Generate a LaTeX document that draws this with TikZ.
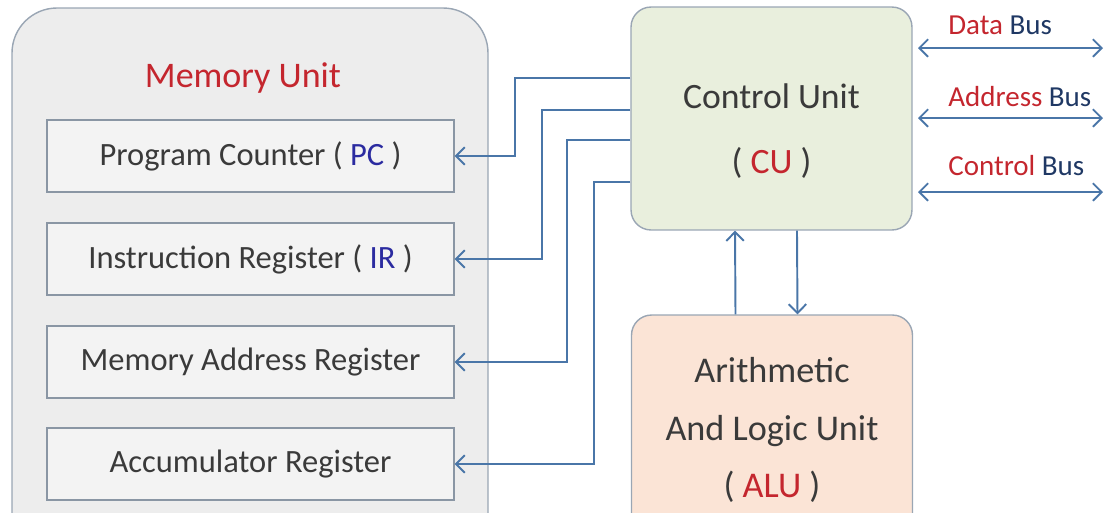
\documentclass[tikz,border=0pt]{standalone}
\usepackage{fontspec}
\setmainfont{Carlito}
\usetikzlibrary{arrows.meta}

\definecolor{memfill}{HTML}{EDEDED}
\definecolor{memline}{HTML}{9AA6B4}
\definecolor{regfill}{HTML}{F3F3F3}
\definecolor{regline}{HTML}{8A96A4}
\definecolor{cufill}{HTML}{E9EFDD}
\definecolor{alufill}{HTML}{FBE4D6}
\definecolor{txt}{HTML}{3A3A3A}
\definecolor{hot}{HTML}{C4262E}
\definecolor{cool}{HTML}{2B2BA0}
\definecolor{navy}{HTML}{1F3864}
\definecolor{wire}{HTML}{4A76A8}

\tikzset{
  reg/.style={draw=regline, fill=regfill, line width=0.8pt, inner sep=0pt,
    minimum width=8.14cm, minimum height=1.44cm, text=txt,
    font=\fontsize{18.5}{22}\selectfont},
  unit/.style={draw=memline, line width=0.8pt, rounded corners=0.4cm,
    minimum width=5.62cm, inner sep=0pt},
  unittext/.style={text=txt, align=center, inner sep=0pt},
  link/.style={wire, line width=1.1pt, -{Straight Barb[length=5pt,width=10pt]}},
  bus/.style={link, {Straight Barb[length=5pt,width=10pt]}-{Straight Barb[length=5pt,width=10pt]}},
  buslabel/.style={anchor=west, inner sep=0pt, font=\fontsize{16.5}{19}\selectfont}
}

\begin{document}
\begin{tikzpicture}[x=0.02cm, y=-0.02cm]
\useasboundingbox (0,0) rectangle (1107,512);
\clip (0,0) rectangle (1107,512);

% memory unit and its registers
\draw[draw=memline, fill=memfill, line width=0.8pt, rounded corners=0.9cm] (12,8) rectangle (488,600);
\path (243,78) node[text=hot, font=\fontsize{20.5}{24}\selectfont] (memtitle) {Memory Unit};
\path (250.5,156) node[reg] (pc) {Program Counter ( \textcolor{cool}{PC} )};
\path (250.5,259) node[reg] (ir) {Instruction Register ( \textcolor{cool}{IR} )};
\path (250.5,362) node[reg] (mar) {Memory Address Register};
\path (250.5,464) node[reg] (acc) {Accumulator Register};

% control unit and ALU
\path (771.5,118.5) node[unit, fill=cufill, minimum height=4.46cm] (cu) {};
\path (cu.center) ++(0,13) node[unittext, font=\fontsize{20.3}{37}\selectfont] (cutext)
  {Control Unit\\( \textcolor{hot}{CU} )};
\path (772,430) node[unit, fill=alufill, minimum height=4.6cm] (alu) {};
\path (alu.center) ++(0,0) node[unittext, font=\fontsize{20.6}{32.5}\selectfont] (alutext)
  {Arithmetic\\And Logic Unit\\( \textcolor{hot}{ALU} )};

% control lines to the registers
\draw[link] (cu.west |- 0,78) -- (515,78) |- (pc.east);
\draw[link] (cu.west |- 0,110) -- (542,110) |- (ir.east);
\draw[link] (cu.west |- 0,140) -- (567,140) |- (mar.east);
\draw[link] (cu.west |- 0,182) -- (594,182) |- (acc.east);

\draw[link] ([xshift=-0.73cm]alu.north) -- ([xshift=-0.73cm]cu.south);
\draw[link] ([xshift=0.51cm]cu.south) -- ([xshift=0.51cm]alu.north);

% system buses
\path (948,25) node[buslabel] (dbus) {\textcolor{hot}{Data} \textcolor{navy}{Bus}};
\path (948,97) node[buslabel] (abus) {\textcolor{hot}{Address} \textcolor{navy}{Bus}};
\path (948,166) node[buslabel] (cbus) {\textcolor{hot}{Control} \textcolor{navy}{Bus}};
\coordinate (dL) at (918,48);  \coordinate (dR) at (1103,48);
\coordinate (aL) at (918,118); \coordinate (aR) at (1103,118);
\coordinate (cL) at (918,192); \coordinate (cR) at (1103,192);
\draw[bus] (dL) -- (dR);
\draw[bus] (aL) -- (aR);
\draw[bus] (cL) -- (cR);
\end{tikzpicture}
\end{document}
